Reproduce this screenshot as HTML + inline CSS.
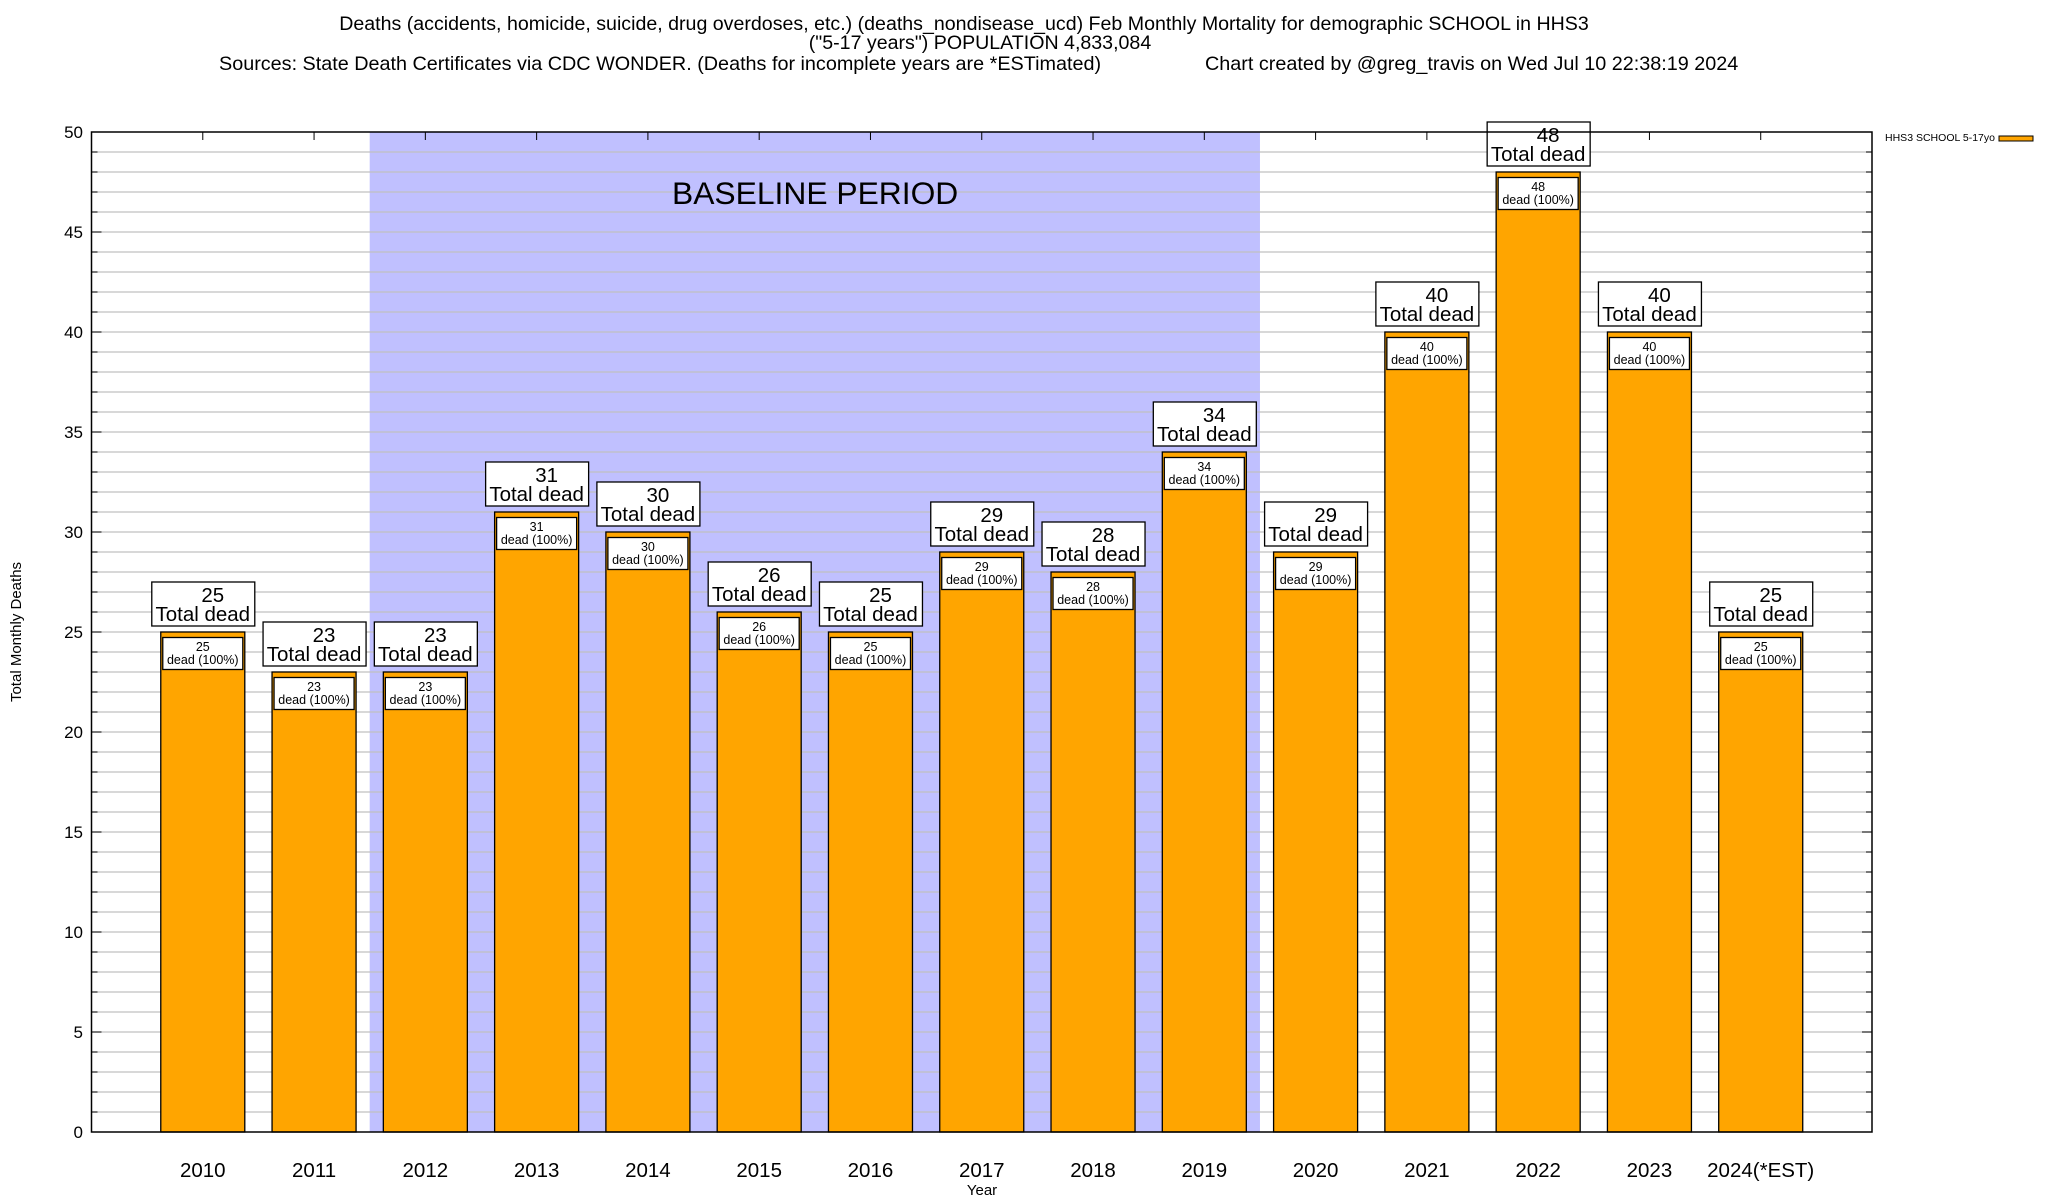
<!DOCTYPE html>
<html><head><meta charset="utf-8"><style>
html,body{margin:0;padding:0;background:#fff;}
svg{display:block;font-family:"Liberation Sans",Arial,sans-serif;}
</style></head><body>
<svg id="chart" width="2048" height="1200" viewBox="0 0 2048 1200">
<text x="964" y="30" font-size="19.6" text-anchor="middle">Deaths (accidents, homicide, suicide, drug overdoses, etc.) (deaths_nondisease_ucd) Feb Monthly Mortality for demographic SCHOOL in HHS3</text>
<text x="980" y="49" font-size="19.6" text-anchor="middle">("5-17 years") POPULATION 4,833,084</text>
<text x="219" y="70" font-size="19.8">Sources: State Death Certificates via CDC WONDER. (Deaths for incomplete years are *ESTimated)</text>
<text x="1205" y="70" font-size="19.8">Chart created by @greg_travis on Wed Jul 10 22:38:19 2024</text>
<g id="plot"></g>
<text x="982" y="1195" font-size="15" text-anchor="middle">Year</text>
<text transform="translate(21,632) rotate(-90)" font-size="15" text-anchor="middle">Total Monthly Deaths</text>
<text x="1885" y="141" font-size="10" textLength="110" lengthAdjust="spacingAndGlyphs">HHS3 SCHOOL 5-17yo</text>
<rect x="1999" y="136" width="34" height="5" fill="#ffa500" stroke="#000" stroke-width="1"/>
</svg>
<script>
const categories = ["2010","2011","2012","2013","2014","2015","2016","2017","2018","2019","2020","2021","2022","2023","2024(*EST)"];
const deaths = [25,23,23,31,30,26,25,29,28,34,29,40,48,40,25];
const yTicks = [0,5,10,15,20,25,30,35,40,45,50];
const baselineStart = 2;
const baselineEnd = 9;

const L=91.5,R=1872,T=132,B=1132;
const yMax=50;
const xs=i=>L+(i+1)*(R-L)/16;
const ys=v=>B-(v/yMax)*(B-T);
const unit=(R-L)/16;
const NS="http://www.w3.org/2000/svg";
const plot=document.getElementById('plot');
function mk(tag,attrs,parent){const e=document.createElementNS(NS,tag);for(const k in attrs)e.setAttribute(k,attrs[k]);(parent||plot).appendChild(e);return e;}

const band=mk('rect',{x:xs(baselineStart-0.5),y:T,width:xs(baselineEnd+0.5)-xs(baselineStart-0.5),height:B-T,fill:'#c0c0ff'});


for(let v=1;v<yMax;v++){
  const g=mk('line',{x1:L,x2:R,y1:ys(v),y2:ys(v),stroke:'#c0c0c0','stroke-width':1.3});
  
  
  const t1=mk('line',{x1:L,x2:L+(v%5?6:10),y1:ys(v),y2:ys(v),stroke:'#000'});
  
  
  const t2=mk('line',{x1:R,x2:R-(v%5?6:10),y1:ys(v),y2:ys(v),stroke:'#000'});
  
  
}
const bl=mk('text',{x:672,y:204,'font-size':31.8});
bl.textContent='BASELINE PERIOD';



yTicks.forEach(v=>{
  const t=mk('text',{x:83,y:ys(v)+6,'font-size':17,'text-anchor':'end'});
  t.textContent=v;
  
  
});

const bw=unit*0.755;
categories.forEach((c,i)=>{
  const cx=xs(i),v=deaths[i],top=ys(v);
  const tk=mk('line',{x1:cx,x2:cx,y1:T,y2:T+8,stroke:'#000'});
  
  
  const bar=mk('rect',{x:cx-bw/2,y:top,width:bw,height:B-top,fill:'#ffa500',stroke:'#000','stroke-width':1.3});
  
  
  const ib=mk('rect',{x:cx-bw/2+2,y:top+5.5,width:bw-4,height:32,fill:'#fff',stroke:'#000','stroke-width':1.3});
  
  
  const it1=mk('text',{x:cx,y:top+19,'font-size':12.5,'text-anchor':'middle'});
  it1.textContent=v;
  
  
  const it2=mk('text',{x:cx,y:top+32,'font-size':12.5,'text-anchor':'middle'});
  it2.textContent='dead (100%)';
  
  
  const tb=mk('rect',{x:cx-51,y:top-50,width:103,height:44,fill:'#fff',stroke:'#000','stroke-width':1.3});
  
  
  const tt1=mk('text',{x:cx+10,y:top-30,'font-size':20.5,'text-anchor':'middle'});
  tt1.textContent=v;
  
  
  const tt2=mk('text',{x:cx,y:top-11,'font-size':20.5,'text-anchor':'middle'});
  tt2.textContent='Total dead';
  
  
  const xl=mk('text',{x:cx,y:1177,'font-size':20.5,'text-anchor':'middle'});
  xl.textContent=c;
  
  
});
const frame=mk('rect',{x:L,y:T,width:R-L,height:B-T,fill:'none',stroke:'#000','stroke-width':1.5});


</script>
</body></html>
